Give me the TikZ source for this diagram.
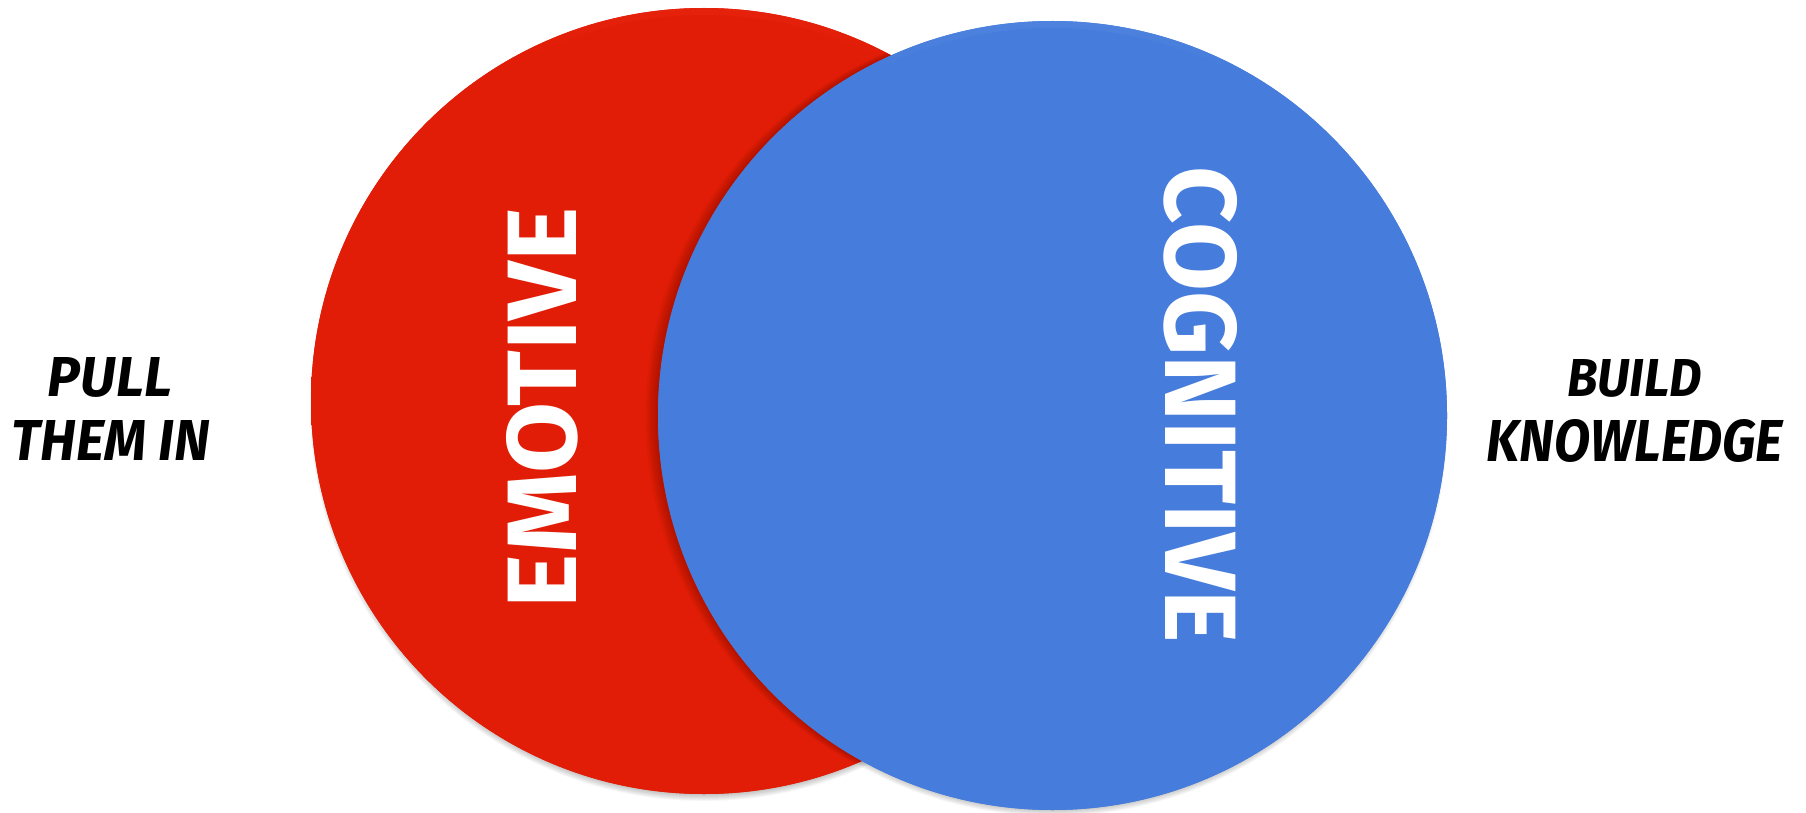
\documentclass[tikz,border=0pt]{standalone}
\usepackage{fontspec}
\setmainfont{Fira Sans}
\usepackage{graphicx}
\definecolor{emred}{HTML}{E21D07}
\definecolor{emredlt}{HTML}{FF4A35}
\definecolor{cgblue}{HTML}{467CDB}
\definecolor{cgbluelt}{HTML}{8AB6F8}
\pgfdeclareverticalshading{rimred}{100bp}{color(0bp)=(emred); color(72bp)=(emred); color(100bp)=(emredlt)}
\pgfdeclareverticalshading{rimblue}{100bp}{color(0bp)=(cgblue); color(72bp)=(cgblue); color(100bp)=(cgbluelt)}
\tikzset{
  bigword/.style={text=white, inner sep=0pt, font=\bfseries},
  sideword/.style={text=black, inner sep=0pt, font=\bfseries\itshape},
  softshadow/.style={black, opacity=0.035},
}
\begin{document}
\begin{tikzpicture}[x=1pt,y=-1pt]
\useasboundingbox (0,0) rectangle (1806,813);
% drop shadows
\foreach \k in {0,...,7} {
  \fill[softshadow] (704,407) circle (387+\k);
  \fill[softshadow] (1052.5,421) circle (388+\k);
}
% red circle
\fill[emred] (704,401) circle (393);
\shade[shading=rimred, even odd rule]
  (704,401) circle (393) (704,401) circle (386);
% shadow of the blue circle on the red one
\begin{scope}
  \clip (704,401) circle (393);
  \foreach \k in {0,...,9} {
    \fill[black, opacity=0.018] (1050.5-1.2*\k,415.5) circle (394.5);
  }
\end{scope}
% blue circle
\fill[cgblue] (1052.5,415.5) circle (394.5);
\shade[shading=rimblue, even odd rule]
  (1052.5,415.5) circle (394.5) (1052.5,415.5) circle (387.5);
% words
\node[bigword, rotate=90] (emotive) at (542,408) {\resizebox{400pt}{70pt}{EMOTIVE}};
\node[bigword, rotate=-90] (cognitive) at (1201,405) {\resizebox{476pt}{72pt}{COGNITIVE}};
\node[sideword] (pull) at (110,377.5) {\resizebox{124pt}{39pt}{PULL}};
\node[sideword] (themin) at (111,440) {\resizebox{198pt}{40pt}{THEM IN}};
\node[sideword] (build) at (1634.5,378.5) {\resizebox{135pt}{37pt}{BUILD}};
\node[sideword] (knowledge) at (1635,441) {\resizebox{296pt}{42pt}{KNOWLEDGE}};
\end{tikzpicture}
\end{document}
